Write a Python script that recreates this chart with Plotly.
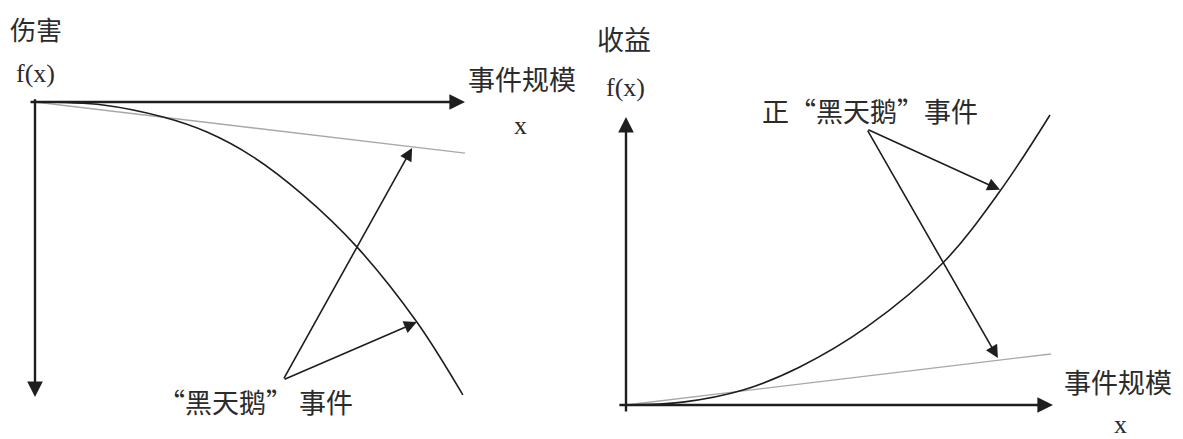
import plotly.graph_objects as go

# ---- Left panel: harm (negative convexity), units = fraction of axis length
harm_x = [0.0, 0.158, 0.298, 0.400, 0.507, 0.623, 0.749, 0.888, 0.995]
harm_y = [0.0, -0.010, -0.051, -0.102, -0.186, -0.315, -0.492, -0.746, -0.993]
harm_tan_x = [0.0, 1.0]
harm_tan_y = [0.0, -0.173]
harm_arrow_tail = (0.577, -0.942)
harm_arrow_heads = [(0.877, -0.156), (0.888, -0.746)]

# ---- Right panel: gain (positive convexity)
gain_x = [0.0, 0.133, 0.274, 0.407, 0.564, 0.742, 0.876, 0.993]
gain_y = [0.0, 0.010, 0.052, 0.132, 0.271, 0.493, 0.743, 1.007]
gain_tan_x = [0.0, 0.995]
gain_tan_y = [0.0, 0.177]
gain_arrow_tail = (0.564, 0.958)
gain_arrow_heads = [(0.876, 0.747), (0.871, 0.163)]

left_labels = {"harm": "伤害", "fx": "f(x)", "size": "事件规模", "x": "x", "swan": "“黑天鹅” 事件"}
right_labels = {"gain": "收益", "fx": "f(x)", "size": "事件规模", "x": "x", "swan": "正“黑天鹅”事件"}

# ---- layout geometry (window pixels); page body has an 8px margin
PAD = 8
WIN_W, WIN_H = 1183, 439
W, H = WIN_W - PAD, WIN_H - PAD
SPLIT = 591.5 - PAD
L_org, L_lenx, L_leny = (35 - PAD, 102 - PAD), 430, 295   # harm grows downward
R_org, R_lenx, R_leny = (626 - PAD, 405 - PAD), 427, 288  # gain grows upward

fig = go.Figure()
INK = "#1e1e1e"
GRAY = "#a8a8a8"
fig.add_trace(go.Scatter(x=harm_tan_x, y=harm_tan_y, mode="lines", line=dict(color=GRAY, width=1.3),
                         xaxis="x", yaxis="y", hoverinfo="skip"))
fig.add_trace(go.Scatter(x=harm_x, y=harm_y, mode="lines", line=dict(color=INK, width=1.6, shape="spline"),
                         xaxis="x", yaxis="y", hoverinfo="skip"))
fig.add_trace(go.Scatter(x=gain_tan_x, y=gain_tan_y, mode="lines", line=dict(color=GRAY, width=1.3),
                         xaxis="x2", yaxis="y2", hoverinfo="skip"))
fig.add_trace(go.Scatter(x=gain_x, y=gain_y, mode="lines", line=dict(color=INK, width=1.6, shape="spline"),
                         xaxis="x2", yaxis="y2", hoverinfo="skip"))

ann = []

def arrow(xr, yr, tail, head, width, size):
    ann.append(dict(xref=xr, yref=yr, axref=xr, ayref=yr, x=head[0], y=head[1], ax=tail[0], ay=tail[1],
                    text="", showarrow=True, arrowhead=2, arrowsize=size, arrowwidth=width,
                    arrowcolor=INK, standoff=0, startstandoff=0))

def label(xr, yr, x, y, t, size=27, fam="Noto Sans CJK SC"):
    ann.append(dict(xref=xr, yref=yr, x=x, y=y, text=t, showarrow=False,
                    font=dict(family=fam, size=size, color="#2b2b2b"), xanchor="center", yanchor="middle"))

SERIF = "Liberation Serif"
# left axes
arrow("x", "y", (-0.014, 0.0), (1.0, 0.0), 2.4, 1.3)
arrow("x", "y", (0.0, 0.014), (0.0, -1.0), 2.4, 1.3)
for h in harm_arrow_heads:
    arrow("x", "y", harm_arrow_tail, h, 1.6, 1.6)
# right axes
arrow("x2", "y2", (-0.019, 0.0), (1.0, 0.0), 2.4, 1.3)
arrow("x2", "y2", (0.0, -0.028), (0.0, 1.0), 2.4, 1.3)
for h in gain_arrow_heads:
    arrow("x2", "y2", gain_arrow_tail, h, 1.6, 1.6)

label("x", "y", 0.002, 0.250, left_labels["harm"], 26)
label("x", "y", 0.0, 0.098, left_labels["fx"], 26, SERIF)
label("x", "y", 1.133, 0.081, left_labels["size"])
label("x", "y", 1.128, -0.081, left_labels["x"], 26, SERIF)
label("x", "y", 0.512, -1.014, left_labels["swan"])

label("x2", "y2", -0.005, 1.271, right_labels["gain"])
label("x2", "y2", -0.002, 1.104, right_labels["fx"], 26, SERIF)
label("x2", "y2", 0.571, 1.024, right_labels["swan"])
label("x2", "y2", 1.152, 0.080, right_labels["size"])
label("x2", "y2", 1.157, -0.069, right_labels["x"], 26, SERIF)

hid = dict(visible=False, showgrid=False, zeroline=False, fixedrange=True)
fig.update_layout(
    width=W, height=H, margin=dict(l=0, r=0, t=0, b=0),
    paper_bgcolor="white", plot_bgcolor="white", showlegend=False,
    xaxis=dict(domain=[0, SPLIT / W], range=[-L_org[0] / L_lenx, (SPLIT - L_org[0]) / L_lenx], **hid),
    yaxis=dict(domain=[0, 1], range=[-(H - L_org[1]) / L_leny, L_org[1] / L_leny], **hid),
    xaxis2=dict(domain=[SPLIT / W, 1], range=[(SPLIT - R_org[0]) / R_lenx, (W - R_org[0]) / R_lenx], **hid),
    yaxis2=dict(domain=[0, 1], range=[-(H - R_org[1]) / R_leny, R_org[1] / R_leny], anchor="x2", **hid),
    annotations=ann,
)
fig.write_html("out.html")
